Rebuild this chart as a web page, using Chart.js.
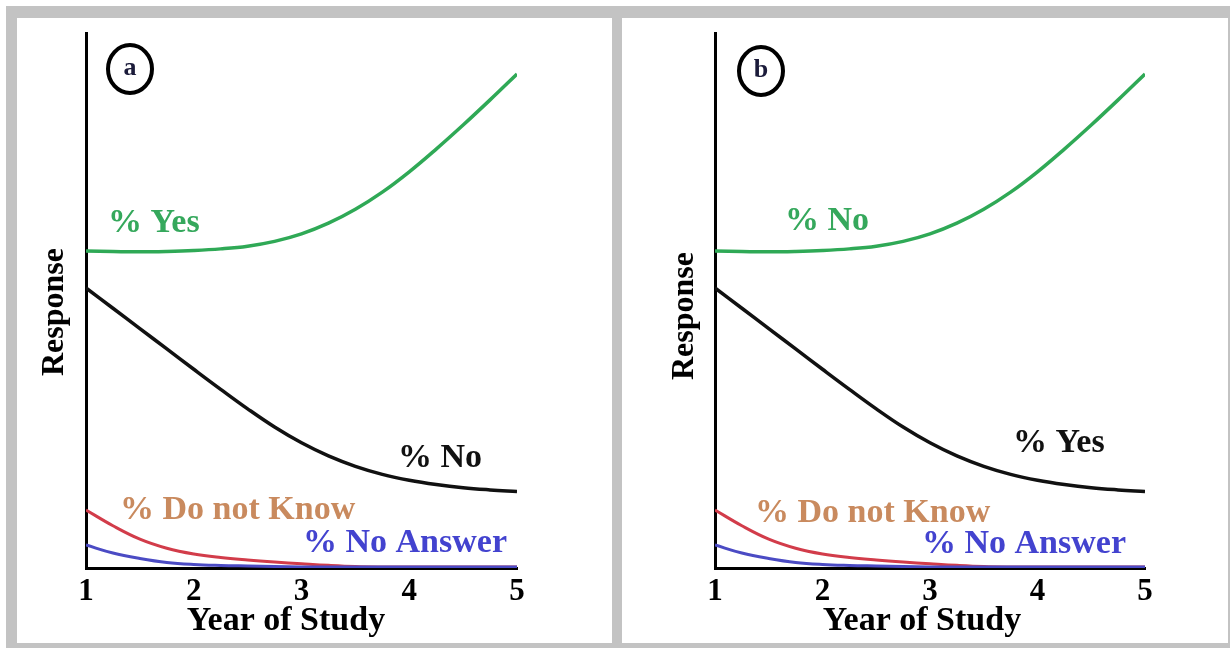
<!DOCTYPE html>
<html>
<head>
<meta charset="utf-8">
<title>Response by Year of Study</title>
<script src="https://cdn.jsdelivr.net/npm/chart.js@4.4.1/dist/chart.umd.min.js"></script>
<style>
  html, body { margin: 0; padding: 0; width: 1230px; height: 648px; overflow: hidden; background: #ffffff; }
  #frame { position: absolute; left: 6px; top: 6px; width: 1224px; height: 642px; background: #c3c3c3; }
  .panel { position: absolute; top: 18px; height: 625px; background: #ffffff; }
  #panelA { left: 17px; width: 595px; }
  #panelB { left: 622px; width: 606px; }
  canvas { display: block; }
</style>
</head>
<body>
<div id="frame"></div>
<div class="panel" id="panelA"><canvas id="chartA" width="595" height="625"></canvas></div>
<div class="panel" id="panelB"><canvas id="chartB" width="606" height="625"></canvas></div>

<script>
// Year of study, sampled every quarter year
const years = [1, 1.25, 1.5, 1.75, 2, 2.25, 2.5, 2.75, 3, 3.25, 3.5, 3.75, 4, 4.25, 4.5, 4.75, 5];

// Rising response curve (green)
const risingShare = [59.25, 59.16, 59.10, 59.18, 59.35, 59.65, 60.15, 61.05, 62.45, 64.45, 67.05, 70.25, 74.05, 78.30, 82.80, 87.50, 92.34];

// Falling response curve (black)
const fallingShare = [52.34, 48.55, 44.75, 40.95, 37.15, 33.40, 29.75, 26.35, 23.40, 20.95, 19.00, 17.50, 16.40, 15.60, 15.00, 14.60, 14.30];

// "% Do not Know"
const doNotKnow = [10.84, 7.90, 5.40, 3.70, 2.62, 1.96, 1.50, 1.12, 0.80, 0.50, 0.28, 0.20, 0.19, 0.19, 0.19, 0.19, 0.19];

// "% No Answer"
const noAnswer = [4.30, 2.80, 1.78, 1.03, 0.65, 0.47, 0.37, 0.28, 0.20, 0.19, 0.19, 0.19, 0.19, 0.19, 0.19, 0.19, 0.19];

// Axis ticks and titles
const yearTicks = [1, 2, 3, 4, 5];
const xTitle = 'Year of Study';
const yTitle = 'Response';

const SERIF = '"Liberation Serif", "Times New Roman", serif';
const GREEN = '#2fa956';
const GREEN_TEXT = '#35a85c';
const BLACK = '#111111';
const RED = '#d23c4a';
const BLUE = '#4b4bc4';
const TAN = '#c98a5e';
const BLUE_TEXT = '#4343cf';

function pts(values) {
  return years.map((x, i) => ({ x: x, y: values[i] }));
}

// Draws the panel letter, the curve labels and the axis titles
const panelText = {
  id: 'panelText',
  afterDraw(chart, args, opts) {
    const ctx = chart.ctx;
    const area = chart.chartArea;
    ctx.save();

    // circled panel letter
    ctx.beginPath();
    ctx.ellipse(area.left + opts.badge.dx, area.top + opts.badge.dy, 22, 24, 0, 0, Math.PI * 2);
    ctx.lineWidth = 4;
    ctx.strokeStyle = '#000';
    ctx.stroke();
    ctx.fillStyle = '#1b1b3a';
    ctx.font = 'bold 26px ' + SERIF;
    ctx.textAlign = 'center';
    ctx.textBaseline = 'middle';
    ctx.fillText(opts.badge.letter, area.left + opts.badge.dx, area.top + opts.badge.dy - 1);

    // curve labels
    ctx.textAlign = 'left';
    ctx.textBaseline = 'alphabetic';
    ctx.font = 'bold 34px ' + SERIF;
    opts.labels.forEach(l => {
      ctx.fillStyle = l.color;
      ctx.fillText(l.text, area.left + l.dx, l.y);
    });

    // axis titles
    ctx.fillStyle = '#000';
    ctx.font = 'bold 34px ' + SERIF;
    ctx.textAlign = 'center';
    ctx.fillText(xTitle, area.left + opts.xTitle.dx, opts.xTitle.y);

    ctx.font = 'bold 32px ' + SERIF;
    ctx.translate(opts.yTitle.x, opts.yTitle.y);
    ctx.rotate(-Math.PI / 2);
    ctx.textBaseline = 'middle';
    ctx.fillText(yTitle, 0, 0);
    ctx.restore();
  }
};

function makePanel(canvasId, cfg) {
  const line = (label, values, color, width, order) => ({
    label: label,
    data: pts(values),
    borderColor: color,
    borderWidth: width,
    pointRadius: 0,
    fill: false,
    tension: 0.4,
    order: order
  });

  return new Chart(document.getElementById(canvasId), {
    type: 'line',
    data: {
      datasets: [
        line(cfg.risingLabel, risingShare, GREEN, 3.5, 3),
        line(cfg.fallingLabel, fallingShare, BLACK, 3.5, 2),
        line('% Do not Know', doNotKnow, RED, 3, 1),
        line('% No Answer', noAnswer, BLUE, 3, 0)
      ]
    },
    options: {
      responsive: false,
      animation: false,
      events: [],
      layout: { padding: { left: 0, top: 15, right: cfg.rightPad, bottom: 0 } },
      plugins: {
        legend: { display: false },
        tooltip: { enabled: false },
        panelText: cfg.text
      },
      scales: {
        x: {
          type: 'linear',
          min: 1,
          max: 5,
          afterBuildTicks: s => { s.ticks = yearTicks.map(v => ({ value: v })); },
          afterFit: s => { s.height = 75; },
          ticks: {
            color: '#000',
            padding: 5,
            maxRotation: 0,
            autoSkip: false,
            font: { family: SERIF, size: 31, weight: 'bold' },
            callback: v => String(v)
          },
          grid: { display: false, drawTicks: false },
          border: { display: true, color: '#000', width: 3 }
        },
        y: {
          min: 0,
          max: 100,
          afterFit: s => { s.width = cfg.axisLeft; },
          ticks: { display: false },
          grid: { display: false, drawTicks: false },
          border: { display: true, color: '#000', width: 3 }
        }
      }
    },
    plugins: [panelText]
  });
}

makePanel('chartA', {
  risingLabel: '% Yes',
  fallingLabel: '% No',
  axisLeft: 69,
  rightPad: 95,
  text: {
    badge: { letter: 'a', dx: 44, dy: 36 },
    labels: [
      { text: '% Yes', color: GREEN_TEXT, dx: 22, y: 214 },
      { text: '% No', color: BLACK, dx: 312, y: 449 },
      { text: '% Do not Know', color: TAN, dx: 34, y: 501 },
      { text: '% No Answer', color: BLUE_TEXT, dx: 217, y: 534 }
    ],
    xTitle: { dx: 200, y: 612 },
    yTitle: { x: 38, y: 294 }
  }
});

makePanel('chartB', {
  risingLabel: '% No',
  fallingLabel: '% Yes',
  axisLeft: 93,
  rightPad: 83,
  text: {
    badge: { letter: 'b', dx: 46, dy: 38 },
    labels: [
      { text: '% No', color: GREEN_TEXT, dx: 70, y: 212 },
      { text: '% Yes', color: BLACK, dx: 298, y: 434 },
      { text: '% Do not Know', color: TAN, dx: 40, y: 504 },
      { text: '% No Answer', color: BLUE_TEXT, dx: 207, y: 535 }
    ],
    xTitle: { dx: 207, y: 612 },
    yTitle: { x: 63, y: 298 }
  }
});
</script>
</body>
</html>
